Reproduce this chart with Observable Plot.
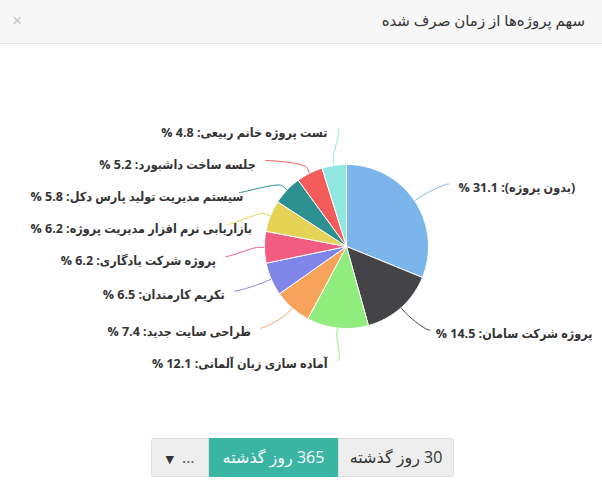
<!DOCTYPE html>
<html><head><meta charset="utf-8">
<script src="https://cdn.jsdelivr.net/npm/d3@7"></script>
<script src="https://cdn.jsdelivr.net/npm/@observablehq/plot@0.6"></script>
<style>
html,body{margin:0;padding:0;background:#fff;width:602px;height:485px;overflow:hidden;font-family:"Open Sans","DejaVu Sans",sans-serif;}
.header{height:43px;border-bottom:1px solid #e5e5e5;background:#f7f7f7;position:relative;}
.title{position:absolute;right:17px;top:0;line-height:41px;font-size:15px;color:#333;direction:rtl;white-space:nowrap;}
.close{position:absolute;left:12px;top:0;line-height:40px;font-size:18px;color:#c4c4c4;}
#chart{height:384px;}
.btns{display:flex;direction:rtl;justify-content:center;margin-top:10px;padding-left:3px;}
.btn{height:37px;line-height:37px;font-size:16px;color:#333;background:#eeeeee;border:1px solid #dddddd;text-align:center;white-space:nowrap;}
.b30{width:114px;border-radius:0 3px 3px 0;}
.b365{width:127px;background:#3ab5a3;border-color:#3ab5a3;color:#fff;}
.bmore{width:56px;border-radius:3px 0 0 3px;direction:ltr;}
.bmore .caret{font-size:11px;margin-right:8px;}
.bmore .dots{color:#555;}
</style>
</head><body>
<div class="header"><div class="close">×</div><div class="title">سهم پروژه‌ها از زمان صرف شده</div></div>
<div id="chart"></div>
<div class="btns"><div class="btn b30">30 روز گذشته</div><div class="btn b365">365 روز گذشته</div><div class="btn bmore"><span class="caret">▼</span><span class="dots">...</span></div></div>
<script>
const names = ["(بدون پروژه)", "پروژه شرکت سامان", "آماده سازی زبان آلمانی", "طراحی سایت جدید", "تکریم کارمندان", "پروژه شرکت یادگاری", "بازاریابی نرم افزار مدیریت پروژه", "سیستم مدیریت تولید پارس دکل", "جلسه ساخت داشبورد", "تست پروژه خانم ربیعی"];
const values = [31.1, 14.5, 12.1, 7.4, 6.5, 6.2, 6.2, 5.8, 5.2, 4.8];
const colors = ["#7cb5ec", "#434348", "#90ed7d", "#f7a35c", "#8085e9", "#f15c80", "#e4d354", "#2b908f", "#f45b5b", "#91e8e1"];

const W = 602, H = 384, cx = 346, cy = 202, r = 82, dist = 30, R = r + dist;
const labelFamily = "'Open Sans', 'DejaVu Sans Condensed', 'DejaVu Sans', sans-serif";
const labelSize = 12.5;
const labelFont = "bold " + labelSize + "px " + labelFamily;
const rows = names.map((name, i) => ({name, value: values[i], color: colors[i]}));
const arcs = d3.pie().sort(null).value(d => d.value)(rows);

// slice polygons
const slicePts = [];
arcs.forEach(a => {
  const n = Math.max(2, Math.ceil((a.endAngle - a.startAngle) / (Math.PI / 180)));
  slicePts.push({name: a.data.name, x: cx, y: cy});
  for (let k = 0; k <= n; k++) {
    const t = a.startAngle + (a.endAngle - a.startAngle) * k / n;
    slicePts.push({name: a.data.name, x: cx + r * Math.sin(t), y: cy - r * Math.cos(t)});
  }
  slicePts.push({name: a.data.name, x: cx, y: cy});
});

// labels
const ctx = document.createElement("canvas").getContext("2d");
ctx.font = labelFont;
const labels = arcs.map(a => {
  const mid = (a.startAngle + a.endAngle) / 2;
  const side = mid > Math.PI ? -1 : 1;
  const text = "\u202B" + a.data.name + ": " + a.data.value.toFixed(1) + " %" + "\u202C";
  return {name: a.data.name, mid, side, target: cy - R * Math.cos(mid), text, w: ctx.measureText(text).width};
});
function distribute(items, minY, maxY, gap) {
  items.sort((a, b) => a.target - b.target);
  const clusters = [];
  const fix = c => {
    c.pos = d3.mean(c.items.map((d, i) => d.target - i * gap));
    c.pos = Math.max(minY, Math.min(maxY - (c.items.length - 1) * gap, c.pos));
  };
  for (const it of items) {
    clusters.push({items: [it], pos: it.target});
    while (true) {
      const c = clusters[clusters.length - 1];
      fix(c);
      const p = clusters[clusters.length - 2];
      if (p && p.pos + p.items.length * gap > c.pos) {
        p.items = p.items.concat(c.items); clusters.pop(); fix(p);
      } else break;
    }
  }
  clusters.forEach(c => c.items.forEach((d, i) => d.ay = c.pos + i * gap));
}
const leftL = labels.filter(d => d.side < 0), rightL = labels.filter(d => d.side > 0);
distribute(leftL, cy - R - 6, cy + R + 8, 32);
distribute(rightL, cy - R - 6, cy + R + 8, 32);

const connPts = [];
labels.forEach(d => {
  const hx = Math.sqrt(Math.max(0, R * R - (d.ay - cy) ** 2));
  const endX = cx + d.side * (hx + 9);
  let lx = cx + d.side * (hx + 19);
  if (d.side < 0 && lx - d.w < 30) lx = 30 + d.w;
  if (d.side > 0 && lx + d.w > W - 10) lx = W - 10 - d.w;
  d.lx = lx; d.ty = d.ay + 4;
  const T = [cx + r * Math.sin(d.mid), cy - r * Math.cos(d.mid)];
  const B = [cx + (r + 6) * Math.sin(d.mid), cy - (r + 6) * Math.cos(d.mid)];
  const P0 = [endX, d.ay], P1 = [endX - d.side * 5, d.ay], P2 = [2 * B[0] - T[0], 2 * B[1] - T[1]], P3 = B;
  for (let k = 0; k <= 20; k++) {
    const t = k / 20, u = 1 - t;
    const x = u*u*u*P0[0] + 3*u*u*t*P1[0] + 3*u*t*t*P2[0] + t*t*t*P3[0];
    const y = u*u*u*P0[1] + 3*u*u*t*P1[1] + 3*u*t*t*P2[1] + t*t*t*P3[1];
    connPts.push({name: d.name, x, y});
  }
  connPts.push({name: d.name, x: T[0], y: T[1]});
});

const chart = Plot.plot({
  width: W, height: H, margin: 0,
  style: {background: "transparent", fontFamily: labelFamily},
  x: {domain: [0, W], range: [0, W], axis: null},
  y: {domain: [0, H], range: [0, H], axis: null},
  color: {domain: names, range: colors},
  marks: [
    Plot.line(connPts, {x: "x", y: "y", z: "name", stroke: "name", strokeWidth: 1}),
    Plot.line(slicePts, {x: "x", y: "y", z: "name", fill: "name", stroke: "white", strokeWidth: 1, strokeLinejoin: "round"}),
    Plot.text(leftL, {x: "lx", y: "ty", text: "text", textAnchor: "end", fontWeight: "bold", fontSize: labelSize, fill: "#333"}),
    Plot.text(rightL, {x: "lx", y: "ty", text: "text", textAnchor: "start", fontWeight: "bold", fontSize: labelSize, fill: "#333"})
  ]
});
document.getElementById("chart").appendChild(chart);
</script>
</body></html>
